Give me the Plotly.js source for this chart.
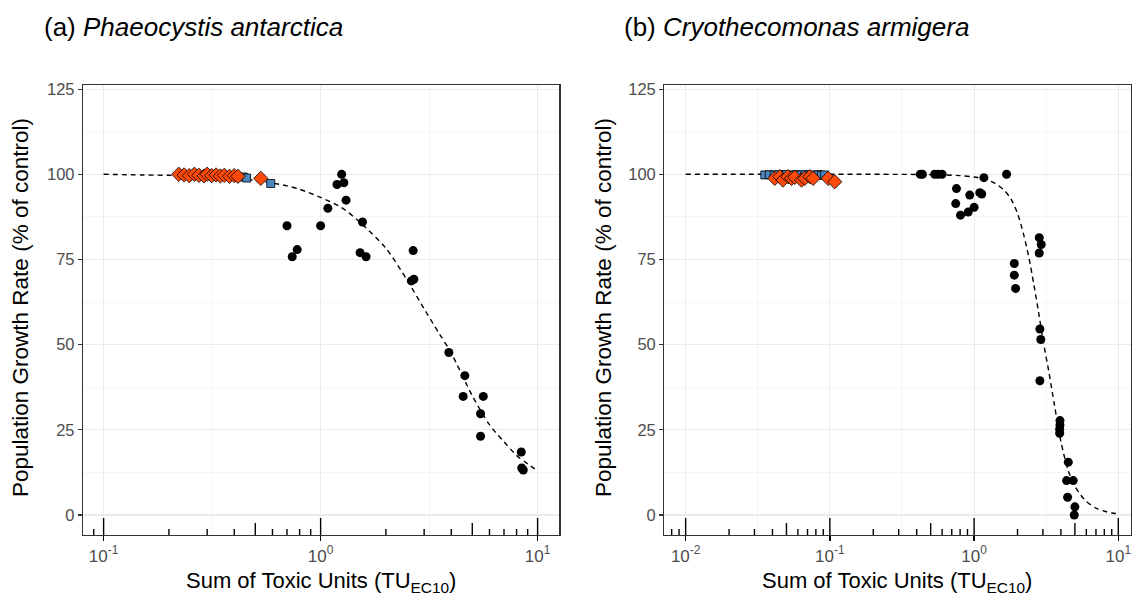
<!DOCTYPE html>
<html>
<head>
<meta charset="utf-8">
<script src="https://cdn.plot.ly/plotly-3.0.1.min.js"></script>
<style>html,body{margin:0;padding:0;background:#fff;}#chart{width:1132px;height:599px;}</style>
</head>
<body>
<div id="chart"></div>
<script>
// ---------- Panel (a) Phaeocystis antarctica ----------
const aBlackX = [1.25,1.19,1.28,1.31,1.08,0.70,1.00,1.56,0.78,0.74,1.52,1.62,2.67,2.69,2.62,3.90,4.62,4.54,5.62,5.46,5.46,8.41,8.59,8.45];
const aBlackY = [100,97,97.5,92.4,90,84.9,84.9,86,77.9,75.8,77,75.8,77.6,69.2,68.7,47.7,40.9,34.8,34.8,29.7,23.1,18.5,13.2,13.8];
const aSquareX = [0.44,0.456,0.589];
const aSquareY = [99.2,98.9,97.3];
const aDiamondX = [0.222,0.235,0.248,0.262,0.275,0.29,0.30,0.315,0.33,0.345,0.36,0.38,0.40,0.416,0.53];
const aDiamondY = [100,99.8,99.6,100,99.7,99.5,100,99.6,99.8,99.5,99.7,99.4,99.6,99.4,98.8];
const aCurveX = [0.1,0.15,0.2,0.3,0.4,0.5,0.6,0.7,0.8,1.0,1.25,1.5,2.0,2.5,3.0,3.5,4.0,5.0,6.0,7.0,8.0,9.0,10];
const aCurveY = [100,99.8,99.7,99.3,98.8,98.2,97.4,96.6,95.6,93.2,90.2,86.2,78.3,69,60.5,53.5,47.5,35,26.5,21.5,17.5,15,13];

// ---------- Panel (b) Cryothecomonas armigera ----------
const bBlackX = [0.424,0.438,0.533,0.562,0.60,1.17,1.68,0.755,0.746,0.805,0.91,1.0,0.933,1.095,1.13,2.83,2.92,2.83,1.90,1.90,1.94,2.86,2.90,2.86,3.94,3.94,3.92,3.92,4.50,4.38,4.87,4.45,5.0,4.95];
const bBlackY = [100,100,100,100,100,99,100,95.8,91.4,88,88.9,90.3,93.9,94.6,94.2,81.4,79.4,76.9,73.8,70.4,66.5,54.6,51.5,39.4,27.7,26.4,25.2,24,15.5,10.1,10.1,5.2,2.4,0];
const bSquareX = [0.0354,0.038,0.041,0.044,0.047,0.050,0.054,0.058,0.062,0.067,0.072,0.078,0.083,0.0874,0.092];
const bSquareY = [99.8,99.9,99.7,99.9,99.8,99.9,99.7,99.9,99.8,99.9,99.7,99.8,99.9,99.7,99.8];
const bDiamondX = [0.0415,0.045,0.0473,0.0513,0.0542,0.0571,0.0636,0.0670,0.0726,0.0765,0.0973,0.108];
const bDiamondY = [98.8,99.3,98.3,99.3,98.8,99.1,98.3,98.8,99.3,98.8,98.8,97.8];
const bCurveX = [0.01,0.1,0.5,0.8,1.0,1.2,1.4,1.6,1.8,2.0,2.2,2.4,2.6,2.8,3.0,3.3,3.6,4.0,4.5,5.0,5.5,6.0,7.0,8.0,9.0,10];
const bCurveY = [100,100,99.9,99.6,99.2,98.5,97.3,95.5,92.8,88.5,82.5,75.5,67.5,59.5,51.5,42,32.5,21.5,13,8.5,5.8,4,2,1.1,0.6,0.4];

// ---------- Text ----------
const yTickVals = [0,25,50,75,100,125];
const yMinorVals = [12.5,37.5,62.5,87.5,112.5];
const aTickVals = [0.1,1,10];
const aTickText = ['10<sup>-1</sup>','10<sup>0</sup>','10<sup>1</sup>'];
const bTickVals = [0.01,0.1,1,10];
const bTickText = ['10<sup>-2</sup>','10<sup>-1</sup>','10<sup>0</sup>','10<sup>1</sup>'];
const titleA = '(a) <i>Phaeocystis antarctica</i>';
const titleB = '(b) <i>Cryothecomonas armigera</i>';
const yTitle = 'Population Growth Rate (% of control)';
const xTitle = 'Sum of Toxic Units (TU<sub>EC10</sub>)';

const W = 1132, H = 599;
const FONT = 'Liberation Sans, Arial, Helvetica, sans-serif';
const yDom = [1 - 535/H, 1 - 85/H];
const aDom = [83/W, 559.3/W];
const bDom = [664.3/W, 1131/W];
const aRange = [-1.095, 1.1];
const bRange = [-2.148, 1.088];
const yRange = [-5.87, 126.2];

function curve(x, y, xa, ya) {
  return {x, y, xaxis: xa, yaxis: ya, type: 'scatter', mode: 'lines', hoverinfo: 'skip',
    line: {color: '#000', width: 1.4, dash: '5px,4px', shape: 'spline', smoothing: 0.8}, showlegend: false};
}
function pts(x, y, xa, ya, sym, color, size, lw) {
  return {x, y, xaxis: xa, yaxis: ya, type: 'scatter', mode: 'markers', showlegend: false,
    marker: {symbol: sym, color: color, size: size, line: {color: '#000', width: lw}}};
}

const traces = [
  curve(aCurveX, aCurveY, 'x', 'y'),
  pts(aBlackX, aBlackY, 'x', 'y', 'circle', '#000', 9, 0),
  pts(aSquareX, aSquareY, 'x', 'y', 'square', '#4a86c0', 8, 0.8),
  pts(aDiamondX, aDiamondY, 'x', 'y', 'diamond', '#ff4a0a', 11, 0.8),
  curve(bCurveX, bCurveY, 'x2', 'y2'),
  pts(bBlackX, bBlackY, 'x2', 'y2', 'circle', '#000', 9, 0),
  pts(bSquareX, bSquareY, 'x2', 'y2', 'square', '#4a86c0', 8, 0.8),
  pts(bDiamondX, bDiamondY, 'x2', 'y2', 'diamond', '#ff4a0a', 11, 0.8)
];

// log tick decorations (annotation_logticks style)
function logTicks(xref, range) {
  const shapes = [];
  for (let d = Math.floor(range[0]) - 1; d <= Math.ceil(range[1]); d++) {
    for (let k = 1; k <= 9; k++) {
      const v = k * Math.pow(10, d);
      const lv = Math.log10(v);
      if (lv < range[0] + 0.003 || lv > range[1] - 0.003) continue;
      const len = k === 1 ? 17 : (k === 5 ? 12 : 6);
      shapes.push({type: 'line', xref: xref, yref: 'paper', ysizemode: 'pixel', yanchor: yDom[0],
        x0: v, x1: v, y0: 0, y1: len, line: {color: '#000', width: 1.4}, layer: 'above'});
    }
  }
  return shapes;
}

const xCommon = {type: 'log', showline: true, linecolor: '#333', linewidth: 1.2, mirror: true,
  ticks: 'outside', ticklen: 5, tickcolor: '#000', tickwidth: 1.3, tickmode: 'array',
  tickfont: {family: FONT, size: 17, color: '#4d4d4d'}, showgrid: true, gridcolor: '#ebebeb', gridwidth: 1.1,
  zeroline: false, anchor: 'y', fixedrange: true};
const yCommon = {range: yRange, domain: yDom, showline: true, linecolor: '#333', linewidth: 1.2, mirror: true,
  ticks: 'outside', ticklen: 4, tickcolor: '#333', tickwidth: 1.1, tickmode: 'array', tickvals: yTickVals,
  tickfont: {family: FONT, size: 16.5, color: '#4d4d4d'}, showgrid: true, gridcolor: '#ebebeb', gridwidth: 1.1,
  zeroline: false, minor: {tickmode: 'array', tickvals: yMinorVals, showgrid: true, gridcolor: '#f3f3f3', gridwidth: 0.8, ticks: ''}};

const layout = {
  width: W, height: H, margin: {l: 0, r: 0, t: 0, b: 0},
  paper_bgcolor: '#fff', plot_bgcolor: '#fff', showlegend: false,
  font: {family: FONT, color: '#000'},
  xaxis: Object.assign({}, xCommon, {domain: aDom, range: aRange, tickvals: aTickVals, ticktext: aTickText, anchor: 'y',
    minor: {tickmode: 'array', tickvals: [0.3162, 3.162], showgrid: true, gridcolor: '#f3f3f3', gridwidth: 0.8, ticks: ''}}),
  yaxis: Object.assign({}, yCommon, {anchor: 'x'}),
  xaxis2: Object.assign({}, xCommon, {domain: bDom, range: bRange, tickvals: bTickVals, ticktext: bTickText, anchor: 'y2',
    minor: {tickmode: 'array', tickvals: [0.003162, 0.03162, 0.3162, 3.162], showgrid: true, gridcolor: '#f3f3f3', gridwidth: 0.8, ticks: ''}}),
  yaxis2: Object.assign({}, yCommon, {anchor: 'x2'}),
  shapes: logTicks('x', aRange).concat(logTicks('x2', bRange)),
  annotations: [
    {text: titleA, xref: 'paper', yref: 'paper', x: 42/W, y: 1 - 27/H, xanchor: 'left', yanchor: 'middle', showarrow: false, font: {family: FONT, size: 26, color: '#000'}},
    {text: titleB, xref: 'paper', yref: 'paper', x: 622/W, y: 1 - 27/H, xanchor: 'left', yanchor: 'middle', showarrow: false, font: {family: FONT, size: 26, color: '#000'}},
    {text: yTitle, xref: 'paper', yref: 'paper', x: 20/W, y: 1 - 308/H, textangle: -90, xanchor: 'center', yanchor: 'middle', showarrow: false, font: {family: FONT, size: 22.5, color: '#000'}},
    {text: yTitle, xref: 'paper', yref: 'paper', x: 603/W, y: 1 - 308/H, textangle: -90, xanchor: 'center', yanchor: 'middle', showarrow: false, font: {family: FONT, size: 22.5, color: '#000'}},
    {text: xTitle, xref: 'paper', yref: 'paper', x: 321/W, y: 1 - 582/H, xanchor: 'center', yanchor: 'middle', showarrow: false, font: {family: FONT, size: 22, color: '#000'}},
    {text: xTitle, xref: 'paper', yref: 'paper', x: 897/W, y: 1 - 582/H, xanchor: 'center', yanchor: 'middle', showarrow: false, font: {family: FONT, size: 22, color: '#000'}}
  ]
};

Plotly.newPlot('chart', traces, layout, {displayModeBar: false, staticPlot: true});
</script>
</body>
</html>
